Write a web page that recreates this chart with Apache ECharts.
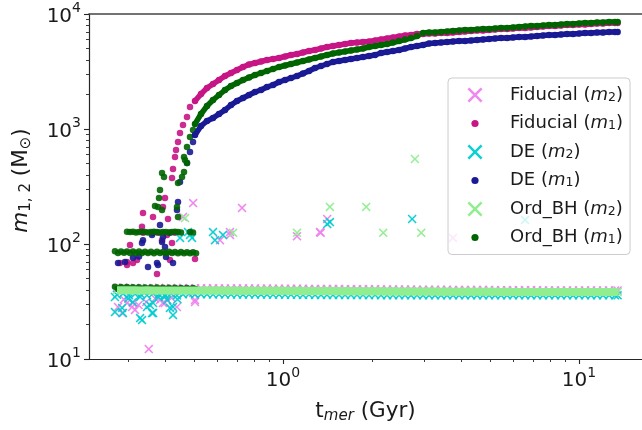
<!DOCTYPE html>
<html><head><meta charset="utf-8">
<script src="https://cdn.jsdelivr.net/npm/echarts@6.0.0/dist/echarts.min.js"></script>
<style>html,body{margin:0;padding:0;background:#fff}#c{width:642px;height:430px}</style>
</head><body><div id="c"></div><script>
// ---------- data ----------
const tEarly = [0.2749,0.2880,0.3017,0.3162,0.3313,0.3471,0.3637,0.3811,0.3993,0.4183,0.4383,0.4593,0.4812];
const tCurve = [0.5043,0.5284,0.5537,0.5801,0.6078,0.6369,0.6673,0.6992,0.7326,0.7676,
  0.8043,0.8427,0.8830,0.9252,0.9694,1.016,1.064,1.115,1.168,1.224,
  1.283,1.344,1.408,1.475,1.546,1.620,1.697,1.778,1.863,1.952,
  2.046,2.143,2.246,2.353,2.466,2.583,2.707,2.836,2.972,3.114,
  3.263,3.419,3.582,3.753,3.933,4.121,4.318,4.524,4.740,4.967,
  5.204,5.453,5.713,5.985,6.271,6.571,6.885,7.214,7.558,7.917,
  8.297,8.693,9.109,9.544,10.00,10.48,10.98,11.50,12.05,12.63,
  13.23,13.50];
const tFine = [0.2706,0.2771,0.2836,0.2903,0.2972,0.3042,0.3113,0.3187,0.3262,0.3339,
  0.3418,0.3499,0.3581,0.3666,0.3752,0.3841,0.3932,0.4025,0.4120,0.4217,
  0.4317,0.4419,0.4523,0.4630,0.4739,0.4851,0.4966,0.5083];
const tHigh = [0.2972,0.3042,0.3113,0.3187,0.3262,0.3339,0.3418,0.3499,0.3581,0.3666,
  0.3752,0.3841,0.3932,0.4025,0.4120,0.4217,0.4317,0.4419,0.4523,0.4851,0.4966];

const fidM1Curve = [1751,2015,2272,2462,2668,2890,3069,3258,3460,3638,
  3749,3864,3981,4061,4143,4270,4400,4490,4627,4768,
  4864,5012,5164,5268,5375,5483,5594,5651,5708,5766,
  5882,6001,6123,6247,6371,6501,6565,6698,6698,6765,
  6765,6834,6834,6903,6973,7042,7114,7186,7186,7259,
  7331,7405,7405,7480,7556,7556,7632,7709,7785,7864,
  7864,7943,8022,8022,8104,8104,8185,8267,8267,8350,
  8350,8350];
const deM1Curve = [887,1062,1174,1246,1350,1463,1617,1751,1860,1975,
  2097,2183,2319,2413,2563,2668,2776,2890,3038,3194,
  3392,3530,3674,3824,3902,3981,4061,4143,4227,4313,
  4400,4581,4673,4768,4864,5012,5164,5268,5375,5539,
  5594,5651,5708,5766,5823,5823,5882,5941,6001,6061,
  6123,6184,6184,6247,6310,6310,6371,6435,6501,6565,
  6565,6631,6698,6698,6765,6834,6834,6903,6903,6973,
  6973,6973];
const ordM1Curve = [1106,1350,1585,1787,1975,2183,2366,2512,2668,2804,
  2948,3069,3194,3324,3460,3566,3674,3786,3902,4021,
  4143,4270,4400,4535,4627,4720,4815,4912,5012,5164,
  5268,5375,5483,5651,5823,6001,6184,6435,6834,6903,
  6903,6973,7042,7114,7186,7259,7259,7331,7405,7405,
  7480,7556,7556,7632,7709,7785,7864,7864,7943,8022,
  8022,8104,8185,8185,8267,8350,8350,8433,8433,8517,
  8517,8517];

const fidM2Band = [41.4,41.8,41.2,41.6,41.0,41.5,41.3,41.7,41.1,41.4,41.2,41.5,41.3,
  41.2,41.2,41.1,41.2,41.1,41.1,41.0,41.1,41.0,41.0,
  41.0,40.9,41.0,40.9,40.9,40.8,40.9,40.8,40.8,40.7,
  40.7,40.7,40.6,40.6,40.6,40.5,40.5,40.5,40.4,40.4,
  40.4,40.3,40.3,40.3,40.2,40.2,40.2,40.1,40.1,40.1,
  40.0,40.0,40.0,39.9,39.9,39.9,39.8,39.8,39.8,39.8,
  39.7,39.7,39.7,39.7,39.6,39.6,39.6,39.6,39.5,39.5,
  39.5,39.5,39.5,39.4,39.4,39.4,39.4,39.4,39.4,39.4,
  39.4,39.4];
const ordM2Band = [39.6,39.6,39.6,39.6,39.5,39.6,39.5,39.5,39.5,39.5,39.5,39.4,39.5,
  39.4,39.4,39.4,39.4,39.4,39.3,39.4,39.3,39.3,39.3,
  39.3,39.2,39.3,39.2,39.2,39.2,39.1,39.2,39.1,39.1,
  39.1,39.0,39.0,39.0,38.9,39.0,38.9,38.9,38.9,38.8,
  38.8,38.8,38.7,38.8,38.7,38.7,38.7,38.6,38.6,38.6,
  38.6,38.5,38.6,38.5,38.5,38.5,38.4,38.5,38.4,38.4,
  38.4,38.3,38.4,38.3,38.3,38.3,38.3,38.2,38.3,38.2,
  38.2,38.2,38.2,38.2,38.2,38.2,38.2,38.2,38.2,38.2,
  38.2,38.2];
const deM2Band = [36.2,37.0,35.8,36.8,36.4,35.9,37.1,36.3,36.0,36.9,35.7,36.5,36.8,
  36.5,36.5,36.5,36.4,36.5,36.4,36.4,36.4,36.3,36.4,
  36.3,36.3,36.3,36.2,36.3,36.2,36.2,36.2,36.1,36.2,
  36.1,36.1,36.1,36.0,36.1,36.0,36.0,36.0,36.0,35.9,
  36.0,35.9,35.9,35.9,35.9,35.9,35.8,35.9,35.8,35.8,
  35.8,35.8,35.8,35.8,35.8,35.8,35.8,35.8,35.8,35.8,
  35.8,35.8,35.8,35.8,35.8,35.8,35.8,35.8,35.8,35.8,
  35.8,35.8,35.8,35.8,35.8,35.8,35.8,35.8,35.8,35.8,
  35.8,35.8];

const ordM1Low = [42.4,40.6,42.3,40.6,42.2,40.6,42.1,40.5,42.0,40.5,41.9,40.5,41.8,40.5,
  41.8,40.4,41.7,40.4,41.6,40.4,41.6,40.4,41.5,40.4,41.5,40.4,41.4,40.4];
const ordM1Mid = [86.4,83.6,86.2,83.8,86.0,83.5,85.9,83.7,86.1,83.4,85.8,83.6,85.7,83.3,
  85.6,83.5,85.4,83.2,85.5,83.4,85.2,83.1,85.0,83.3,84.8,83.0,84.9,83.2];
const ordM1High = [128,127,128,126,127,128,127,126,127,128,127,126,127,127,126,127,128,127,126,127,126];

const fidM1Scatter = [[0.4851,1554],[0.4739,1272],[0.4593,1083],[0.4488,923],[0.4419,771],[0.4351,657],
  [0.4317,571],[0.4250,449],[0.4217,375],[0.3993,251],[0.3932,210],[0.3365,186],[0.3637,172],
  [0.4088,165],[0.3339,141],[0.3365,125],[0.3042,98],[0.3781,125],[0.3902,108],[0.4317,125],
  [0.4056,120],[0.4217,102],[0.2813,68.4],[0.2972,69.8],[0.3212,72.6],[0.3752,54.8],[0.5043,74.1],
  [0.3113,68.4],[0.4151,72.6],[0.2972,65.7]];
const deM1Scatter = [[0.4966,771],[0.4851,631],[0.4739,506],[0.4488,346],[0.4419,232],[0.4383,198],
  [0.3841,146],[0.3609,120],[0.3902,104],[0.3365,108],[0.4151,125],[0.3637,125],[0.3932,115],
  [0.3339,102],[0.3993,94],[0.2771,68.4],[0.2926,69.8],[0.3499,63.1],[0.3752,68.4],[0.3781,65.7],
  [0.4250,68.4],[0.3113,76],[0.4025,77],[0.3262,78]];
const ordM1Scatter = [[0.4966,980],[0.4851,852],[0.4739,698],[0.4666,538],[0.4630,571],[0.4739,506],
  [0.4630,423],[0.4559,382],[0.4419,339],[0.4383,210],[0.4419,172],[0.3902,414],[0.3963,382],
  [0.3841,295],[0.3811,251],[0.3781,210],[0.3694,214],[0.3902,198]];
const fidM2Scatter = [[0.727,206],[1.41,165],[1.34,125],[1.115,117],[0.662,127],[3.75,113],[0.497,227],
  [0.4593,172],[0.6622,120],[0.6125,108],[1.333,127],
  [0.4966,37.5],[0.5043,32.6],[0.5043,31.3],[0.286,25.1],[0.297,30.7],[0.309,28.3],[0.393,30.7],
  [0.406,32.6],[0.438,28.3],[0.277,28.3],[0.311,30.7],[0.3162,26.7],[0.384,32.6],[0.399,30.7],
  [0.352,12.2],[0.325,29.5],[0.345,31.3],[0.37,33.5],[0.29,33.0],[0.42,34.0]];
const deM2Scatter = [[2.73,165],[1.44,155],[1.41,149],[6.57,162],[0.4776,127],[0.4851,120],[0.4488,113],
  [0.4927,113],[0.5801,127],[0.6269,120],[0.5891,108],
  [0.2706,25.6],[0.286,27.8],[0.334,21.8],[0.329,22.7],[0.364,25.1],[0.355,29.5],[0.425,24.1],
  [0.415,27.8],[0.311,31.3],[0.2706,34.6],[0.329,34.6],[0.288,25.1],[0.361,25.1],[0.364,30.7],
  [0.425,28.3],[0.406,32.6],[0.3471,28.3],[0.30,33.5],[0.38,34.5],[0.44,33.0],[0.40,35.0]];
const ordM2Scatter = [[2.79,548],[1.44,210],[1.91,210],[1.115,125],[2.18,125],[2.93,125],[0.678,125],[0.4666,168]];

const xMajorTicks = [1, 10];
const xMinorTicks = [0.3,0.4,0.5,0.6,0.7,0.8,0.9,2,3,4,5,6,7,8,9];
const yMajorTicks = [10, 100, 1000, 10000];
const yMinorTicks = [20,30,40,50,60,70,80,90,200,300,400,500,600,700,800,900,2000,3000,4000,5000,6000,7000,8000,9000];
const seriesNames = ['Fiducial (m2)','Fiducial (m1)','DE (m2)','DE (m1)','Ord_BH (m2)','Ord_BH (m1)'];
const seriesColors = ['#ee82ee','#c71585','#00ced1','#1a1a94','#90ee90','#006400'];

// ---------- build ----------
const F = 'DejaVu Sans';
const TXT = '#1a1a1a';
const zip = (xs, ys) => xs.map((x, i) => [x, ys[i]]);
const tBand = tEarly.concat(tCurve);
const X_PATH = 'path://M0,1.2L1.2,0L5,3.8L8.8,0L10,1.2L6.2,5L10,8.8L8.8,10L5,6.2L1.2,10L0,8.8L3.8,5Z';
const X_ICON = 'path://M-1,-1M11,11M0,1.2L1.2,0L5,3.8L8.8,0L10,1.2L6.2,5L10,8.8L8.8,10L5,6.2L1.2,10L0,8.8L3.8,5Z';
const DOT_ICON = 'path://M-1,-1M11,11M5,2.6A2.4,2.4,0,1,1,5,7.4A2.4,2.4,0,1,1,5,2.6Z';

// parts for each legend entry, in matplotlib drawing order
const parts = [
  [{kind: 'x', data: zip(tBand, fidM2Band).concat(fidM2Scatter)}],
  [{kind: 'curve', data: zip(tCurve, fidM1Curve)}, {kind: 'dot', data: fidM1Scatter}],
  [{kind: 'x', data: zip(tBand, deM2Band).concat(deM2Scatter)}],
  [{kind: 'curve', data: zip(tCurve, deM1Curve)}, {kind: 'dot', data: deM1Scatter}],
  [{kind: 'band', data: zip(tBand, ordM2Band)}, {kind: 'x', data: zip(tBand, ordM2Band).concat(ordM2Scatter)}],
  [{kind: 'curve', data: zip(tCurve, ordM1Curve)},
   {kind: 'dot', data: zip(tFine, ordM1Low).concat(zip(tFine, ordM1Mid), zip(tHigh, ordM1High), ordM1Scatter)}]
];
const series = [];
parts.forEach((list, i) => {
  const name = seriesNames[i], color = seriesColors[i];
  list.forEach(p => {
    if (p.kind === 'x') {
      series.push({name, type: 'scatter', symbol: X_PATH, symbolSize: 9,
        itemStyle: {color, opacity: 0.95}, emphasis: {disabled: true}, data: p.data});
    } else if (p.kind === 'dot') {
      series.push({name, type: 'scatter', symbol: 'circle', symbolSize: 6.5,
        itemStyle: {color, opacity: 0.9}, emphasis: {disabled: true}, data: p.data});
    } else if (p.kind === 'curve') {
      series.push({name, type: 'line', symbol: 'circle', symbolSize: 6.5, showSymbol: true,
        lineStyle: {color, width: 5.5}, itemStyle: {color}, emphasis: {disabled: true}, data: p.data});
    } else {
      series.push({name, type: 'line', symbol: 'none', showSymbol: false,
        lineStyle: {color, width: 8}, itemStyle: {color}, emphasis: {disabled: true}, data: p.data});
    }
  });
});

const XMIN = 0.2211, XMAX = 16.32;
const tickRich = {
  b: {fontFamily: F, fontSize: 20, color: TXT, lineHeight: 25, verticalAlign: 'bottom'},
  p: {fontFamily: F, fontSize: 14, color: TXT, lineHeight: 14, verticalAlign: 'top'}
};
const powLabel = v => '{b|10}{p|' + Math.round(Math.log10(v)) + '}';
const nameRich = {
  n: {fontFamily: F, fontSize: 21.5, color: TXT, lineHeight: 26},
  i: {fontFamily: F, fontSize: 21.5, fontStyle: 'italic', color: TXT, lineHeight: 26},
  s: {fontFamily: F, fontSize: 15, color: TXT, lineHeight: 13, verticalAlign: 'bottom'},
  si: {fontFamily: F, fontSize: 15, fontStyle: 'italic', color: TXT, lineHeight: 13, verticalAlign: 'bottom'}
};
const legendRich = {
  n: {fontFamily: F, fontSize: 18, color: TXT, lineHeight: 18},
  i: {fontFamily: F, fontSize: 18, fontStyle: 'italic', color: TXT, lineHeight: 18},
  s: {fontFamily: F, fontSize: 12.5, color: TXT, lineHeight: 8, verticalAlign: 'bottom'}
};
const lineCol = '#262626';

const chart = echarts.init(document.getElementById('c'), null, {renderer: 'canvas'});
chart.setOption({
  animation: false,
  backgroundColor: '#ffffff',
  grid: {left: 89, top: 14, right: 0, bottom: 71, containLabel: false},
  legend: {
    orient: 'vertical', left: 448, top: 78,
    padding: [8, 7, 8, 18], itemGap: 10.5, itemWidth: 18, itemHeight: 18,
    backgroundColor: 'rgba(255,255,255,0.8)', borderColor: '#cccccc', borderWidth: 1, borderRadius: 4,
    selectedMode: false,
    data: seriesNames.map((n, i) => ({name: n, icon: i % 2 === 0 ? X_ICON : DOT_ICON})),
    formatter: name => {
      const m = name.match(/^(.*) \(m(\d)\)$/);
      return '{n|' + m[1] + ' (}{i|m}{s|' + m[2] + '}{n|)}';
    },
    textStyle: {fontFamily: F, fontSize: 18, color: TXT, padding: [0, 0, 0, 21], rich: legendRich}
  },
  xAxis: [
    {type: 'log', logBase: 10, min: XMIN, max: XMAX, position: 'bottom',
     axisLine: {show: true, lineStyle: {color: lineCol, width: 1.2}},
     axisTick: {show: true, inside: false, length: 5, customValues: xMajorTicks, lineStyle: {color: lineCol, width: 1.1}},
     axisLabel: {show: true, customValues: xMajorTicks, margin: 7, formatter: powLabel, rich: tickRich},
     splitLine: {show: false}, minorTick: {show: false},
     name: '{n|t}{si|mer}{n| (Gyr)}', nameLocation: 'middle', nameGap: 39,
     nameTextStyle: {fontFamily: F, fontSize: 21.5, color: TXT, rich: nameRich}},
    {type: 'log', logBase: 10, min: XMIN, max: XMAX, position: 'bottom',
     axisLine: {show: false},
     axisTick: {show: true, inside: false, length: 3, customValues: xMinorTicks, lineStyle: {color: lineCol, width: 0.9}},
     axisLabel: {show: false}, splitLine: {show: false}},
    {type: 'log', logBase: 10, min: XMIN, max: XMAX, position: 'top',
     axisLine: {show: true, lineStyle: {color: '#444', width: 1.6}},
     axisTick: {show: false}, axisLabel: {show: false}, splitLine: {show: false}}
  ],
  yAxis: [
    {type: 'log', logBase: 10, min: 10, max: 10000, position: 'left',
     axisLine: {show: true, lineStyle: {color: lineCol, width: 1.2}},
     axisTick: {show: true, inside: false, length: 5, customValues: yMajorTicks, lineStyle: {color: lineCol, width: 1.1}},
     axisLabel: {show: true, customValues: yMajorTicks, margin: 8, formatter: powLabel, rich: tickRich},
     splitLine: {show: false}, minorTick: {show: false},
     name: '{i|m}{s|1, 2}{n| (M}{s|⊙}{n|)}', nameLocation: 'middle', nameRotate: 90, nameGap: 55,
     nameTextStyle: {fontFamily: F, fontSize: 21.5, color: TXT, padding: [0, 0, 0, 12], rich: nameRich}},
    {type: 'log', logBase: 10, min: 10, max: 10000, position: 'left',
     axisLine: {show: false},
     axisTick: {show: true, inside: false, length: 3, customValues: yMinorTicks, lineStyle: {color: lineCol, width: 0.9}},
     axisLabel: {show: false}, splitLine: {show: false}}
  ],
  series: series
});
</script></body></html>
